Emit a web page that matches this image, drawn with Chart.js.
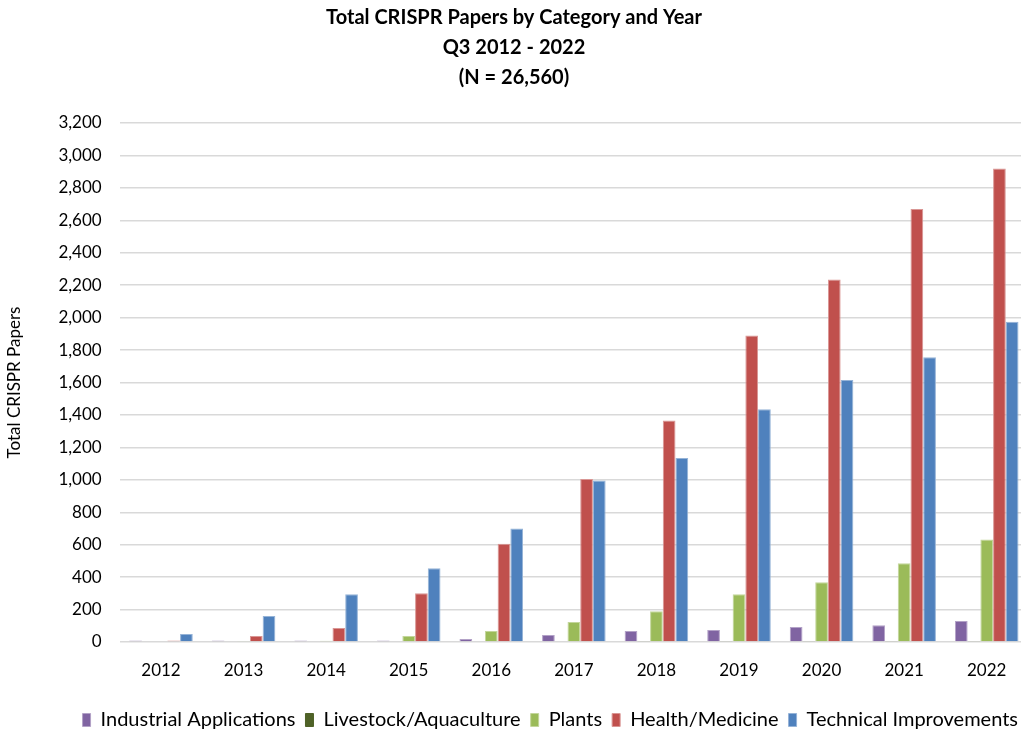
<!DOCTYPE html>
<html><head><meta charset="utf-8">
<script src="https://cdn.jsdelivr.net/npm/chart.js@4"></script>
<style>html,body{margin:0;padding:0;background:#fff;overflow:hidden}#wrap{width:1028px;height:740px}</style>
</head><body><div id="wrap"><canvas id="c"></canvas></div>
<script>
const years = ["2012","2013","2014","2015","2016","2017","2018","2019","2020","2021","2022"];
const industrial = [9, 9, 9, 9, 18, 43, 68, 74, 92, 104, 129];
const livestock = [0, 0, 0, 4, 5, 5, 6, 6, 6, 6, 6];
const plants = [0, 6, 7, 37, 68, 123, 190, 295, 368, 485, 632];
const health = [9, 37, 86, 300, 606, 1005, 1365, 1890, 2235, 2670, 2920];
const technical = [50, 160, 295, 455, 700, 995, 1135, 1435, 1615, 1755, 1975];
const seriesNames = ["Industrial Applications","Livestock/Aquaculture","Plants","Health/Medicine","Technical Improvements"];
const yTicks = [0,200,400,600,800,1000,1200,1400,1600,1800,2000,2200,2400,2600,2800,3000,3200];

const colors = ["#8064A2","#4F6228","#9BBB59","#C0504D","#4F81BD"];
const borders = ["#B3A2C7","#4F6228","#C3D69B","#D99694","#95B3D7"];
const allData = [industrial, livestock, plants, health, technical];
const font = "Lato, 'Open Sans', sans-serif";

new Chart(document.getElementById('c'), {
  type: 'bar',
  data: {
    labels: years,
    datasets: allData.map((d,i)=>({
      label: seriesNames[i], data: d, backgroundColor: colors[i],
      borderColor: borders[i], borderWidth: 1,
      categoryPercentage: 0.77, barPercentage: 1
    }))
  },
  options: {
    responsive: true, maintainAspectRatio: false, animation: false,
    layout: { padding: { left: 0, right: 0, top: 3, bottom: 0 } },
    plugins: {
      title: { display: true, text: ["Total CRISPR Papers by Category and Year","Q3 2012 - 2022","(N = 26,560)"],
        color: "#000", font: { family: font, size: 20, weight: 'bold', lineHeight: 1.5 }, padding: { top: 0, bottom: 30 } },
      legend: { position: 'bottom', align: 'end', labels: { color: "#000", boxWidth: 8, boxHeight: 13, padding: 10,
        font: { family: font, size: 20 } } },
      tooltip: { enabled: false }
    },
    scales: {
      x: { grid: { display: false }, border: { display: false },
        afterFit: ax => { ax.height = 58; },
        ticks: { color: "#000", font: { family: font, size: 17 }, padding: 10 } },
      y: { min: 0, max: 3200, afterBuildTicks: ax => { ax.ticks = yTicks.map(v=>({value:v})); },
        grid: { color: "#D9D9D9", lineWidth: 1.5, drawTicks: false }, border: { display: false },
        ticks: { color: "#000", font: { family: font, size: 17 }, padding: 18 },
        title: { display: true, text: "Total CRISPR Papers", color: "#000", font: { family: font, size: 17 }, padding: { top: 4, bottom: 16 } } }
    }
  }
});
</script></body></html>
